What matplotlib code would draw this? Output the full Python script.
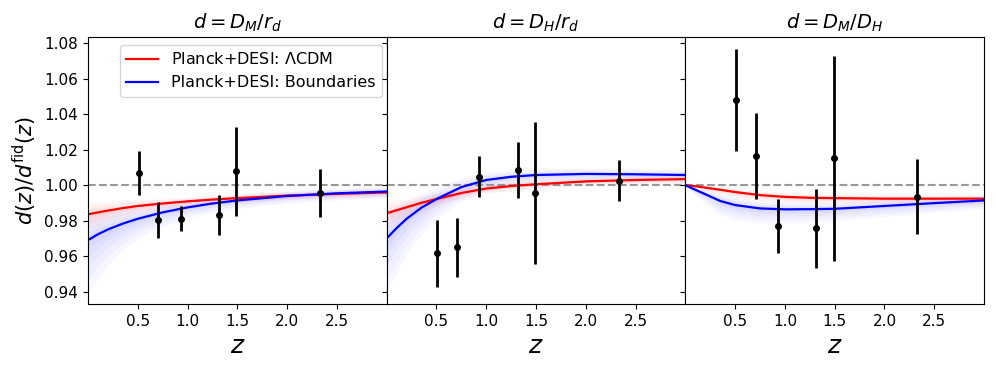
import numpy as np
import matplotlib.pyplot as plt

# BAO data points (DESI)
z_data = [0.51, 0.706, 0.93, 1.317, 1.491, 2.33]
dm_rd = [1.0069, 0.9805, 0.9812, 0.9833, 1.0080, 0.9955]
dm_rd_err = [0.0123, 0.0103, 0.0070, 0.0114, 0.0250, 0.0135]
dh_rd = [0.9618, 0.9651, 1.0048, 1.0086, 0.9958, 1.0026]
dh_rd_err = [0.0187, 0.0165, 0.0114, 0.0160, 0.0400, 0.0115]
dm_dh = [1.0480, 1.0165, 0.9771, 0.9758, 1.0152, 0.9936]
dm_dh_err = [0.0285, 0.0240, 0.0150, 0.0224, 0.0577, 0.0212]

# best-fit curves, read at these redshifts
z_curve = [0.0, 0.1, 0.2, 0.35, 0.5, 0.75, 1.0, 1.25, 1.5, 2.0, 2.5, 3.0]
lcdm_dm = [0.9837, 0.9848, 0.9858, 0.9872, 0.9884, 0.9898, 0.9910, 0.9920, 0.9928, 0.9942, 0.9952, 0.9960]
bound_dm = [0.9692, 0.9725, 0.9752, 0.9785, 0.9812, 0.9848, 0.9876, 0.9898, 0.9915, 0.9940, 0.9955, 0.9965]
lcdm_dh = [0.9843, 0.9860, 0.9877, 0.9902, 0.9923, 0.9957, 0.9982, 0.9996, 1.0006, 1.0022, 1.0030, 1.0035]
bound_dh = [0.9702, 0.9760, 0.9812, 0.9875, 0.9923, 0.9990, 1.0030, 1.0048, 1.0058, 1.0064, 1.0062, 1.0058]
lcdm_dmdh = [1.0000, 0.9995, 0.9987, 0.9975, 0.9962, 0.9945, 0.9935, 0.9930, 0.9928, 0.9925, 0.9925, 0.9925]
bound_dmdh = [1.0000, 0.9975, 0.9950, 0.9912, 0.9889, 0.9870, 0.9865, 0.9866, 0.9868, 0.9884, 0.9900, 0.9915]

# spread of the posterior samples (below / above the best fit)
lcdm_lo = [0.0080, 0.0070, 0.0060, 0.0048, 0.0040, 0.0032, 0.0028, 0.0026, 0.0025, 0.0024, 0.0024, 0.0024]
lcdm_hi = [0.0070, 0.0060, 0.0052, 0.0042, 0.0035, 0.0030, 0.0027, 0.0025, 0.0024, 0.0024, 0.0024, 0.0024]
bound_lo = [0.0300, 0.0250, 0.0200, 0.0150, 0.0110, 0.0080, 0.0060, 0.0050, 0.0045, 0.0040, 0.0038, 0.0036]
bound_hi = [0.0150, 0.0120, 0.0100, 0.0080, 0.0065, 0.0050, 0.0042, 0.0038, 0.0035, 0.0032, 0.0030, 0.0030]
dmdh_lcdm_lo = [0.0, 0.0010, 0.0018, 0.0025, 0.0028, 0.0030, 0.0030, 0.0030, 0.0030, 0.0030, 0.0030, 0.0030]
dmdh_lcdm_hi = [0.0, 0.0008, 0.0015, 0.0020, 0.0022, 0.0024, 0.0024, 0.0024, 0.0024, 0.0024, 0.0024, 0.0024]
dmdh_bound_lo = [0.0, 0.0030, 0.0055, 0.0075, 0.0085, 0.0085, 0.0080, 0.0075, 0.0070, 0.0060, 0.0052, 0.0045]
dmdh_bound_hi = [0.0, 0.0015, 0.0030, 0.0040, 0.0045, 0.0045, 0.0042, 0.0040, 0.0038, 0.0035, 0.0032, 0.0030]

titles = [r'$d = D_M/r_d$', r'$d = D_H/r_d$', r'$d = D_M/D_H$']
panels = [
    (dm_rd, dm_rd_err, lcdm_dm, bound_dm, lcdm_lo, lcdm_hi, bound_lo, bound_hi),
    (dh_rd, dh_rd_err, lcdm_dh, bound_dh, lcdm_lo, lcdm_hi, bound_lo, bound_hi),
    (dm_dh, dm_dh_err, lcdm_dmdh, bound_dmdh, dmdh_lcdm_lo, dmdh_lcdm_hi, dmdh_bound_lo, dmdh_bound_hi),
]


def band(ax, z, mid, lo, hi, color):
    mid = np.array(mid)
    for k in [1.0, 0.75, 0.5, 0.3, 0.15]:
        ax.fill_between(z, mid - k * np.array(lo), mid + k * np.array(hi),
                        color=color, alpha=0.03, lw=0)


fig, axes = plt.subplots(1, 3, figsize=(9.96, 3.73), dpi=100, sharey=True)
plt.subplots_adjust(left=0.0884, right=0.988, bottom=0.185, top=0.901, wspace=0)

for ax, title, (d, err, lc, bd, llo, lhi, blo, bhi) in zip(axes, titles, panels):
    band(ax, z_curve, bd, blo, bhi, 'blue')
    band(ax, z_curve, lc, llo, lhi, 'red')
    ax.axhline(1.0, color='gray', ls='--', lw=1.5, alpha=0.8)
    ax.plot(z_curve, lc, color='red', lw=1.6, label=r'Planck+DESI: $\Lambda$CDM')
    ax.plot(z_curve, bd, color='blue', lw=1.6, label='Planck+DESI: Boundaries')
    ax.errorbar(z_data, d, yerr=err, fmt='o', color='black', ms=4, elinewidth=2, capsize=0)
    ax.set_title(title, fontsize=14)
    ax.set_xlabel(r'$z$', fontsize=18)
    ax.set_xlim(0.0, 3.0)
    ax.set_xticks([0.5, 1.0, 1.5, 2.0, 2.5])
    ax.tick_params(labelsize=11)

axes[0].set_ylim(0.9333, 1.0834)
axes[0].set_yticks([0.94, 0.96, 0.98, 1.00, 1.02, 1.04, 1.06, 1.08])
axes[0].set_ylabel(r'$d(z)/d^{\rm fid}(z)$', fontsize=15)
axes[0].legend(loc='upper left', fontsize=11.5, bbox_to_anchor=(0.08, 1.0))

plt.savefig('out.png')
